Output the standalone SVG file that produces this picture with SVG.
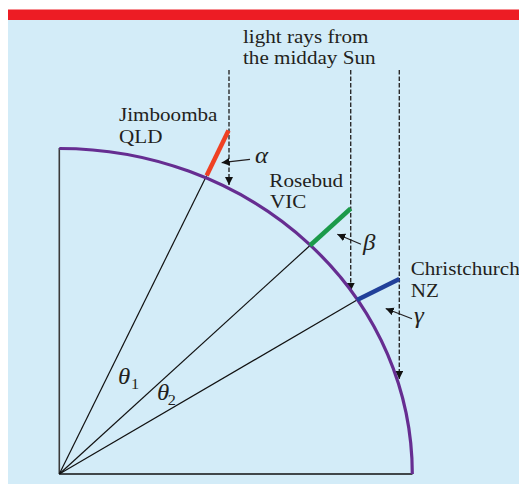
<svg xmlns="http://www.w3.org/2000/svg" width="519" height="484" viewBox="0 0 519 484">
<defs>
<style>
.t{font-family:"Liberation Serif","Times New Roman",serif;font-size:19.5px;fill:#231f20}
.g{font-family:"Liberation Serif","Times New Roman",serif;font-size:23px;font-style:italic;fill:#231f20}
.s{font-family:"Liberation Serif","Times New Roman",serif;font-size:15px;fill:#231f20}
.ray{stroke:#2b2b2b;stroke-width:1.4;stroke-dasharray:4.5 2;fill:none}
.ptr{stroke:#231f20;stroke-width:1.2;fill:none}
.rad{stroke:#111;stroke-width:1.2;fill:none}
</style>
<marker id="ah" markerUnits="userSpaceOnUse" markerWidth="10" markerHeight="10" refX="8" refY="4" orient="auto" viewBox="0 0 10 10">
<path d="M0,0 L8,4 L0,8 z" fill="#111"/>
</marker>
</defs>
<rect x="0" y="0" width="519" height="484" fill="#ffffff"/>
<rect x="8" y="20" width="511" height="464" fill="#d3ecf8"/>
<rect x="8" y="9.5" width="511" height="10.5" fill="#ed1c24"/>

<g id="axes">
<line x1="59.3" y1="474" x2="59.3" y2="148" stroke="#3a3a3a" stroke-width="1.6"/>
<line x1="59.3" y1="474" x2="412.5" y2="474" stroke="#111" stroke-width="1.6"/>
</g>

<g id="connectors">
<line class="rad" x1="59.3" y1="474" x2="206.7" y2="175.5"/>
<line class="rad" x1="59.3" y1="474" x2="310" y2="245.5"/>
<line class="rad" x1="59.3" y1="474" x2="357" y2="300"/>
<line class="ray" x1="229" y1="70" x2="229" y2="185" marker-end="url(#ah)"/>
<line class="ray" x1="350.7" y1="70" x2="350.7" y2="291" marker-end="url(#ah)"/>
<line class="ray" x1="399.3" y1="70" x2="399.3" y2="379" marker-end="url(#ah)"/>
<line class="ptr" x1="250" y1="159.3" x2="221.7" y2="162.7" marker-end="url(#ah)"/>
<line class="ptr" x1="361" y1="244.3" x2="337.3" y2="234.3" marker-end="url(#ah)"/>
<line class="ptr" x1="412" y1="318.8" x2="385.7" y2="308.5" marker-end="url(#ah)"/>
</g>

<g id="earth">
<path d="M59.3,148.5 A353,325.5 0 0 1 412.3,474" fill="none" stroke="#662d91" stroke-width="3.2"/>
</g>

<g id="jimboomba">
<line x1="206.7" y1="175.5" x2="228.5" y2="130.5" stroke="#ef4123" stroke-width="4.5"/>
<text class="t" transform="translate(119,120.5) scale(1.083,1)">Jimboomba</text>
<text class="t" transform="translate(119,142.7) scale(1.083,1)">QLD</text>
</g>

<g id="rosebud">
<line x1="310" y1="245.5" x2="350.7" y2="208.5" stroke="#1b9a4a" stroke-width="4.5"/>
<text class="t" transform="translate(269.3,186.7) scale(1.083,1)">Rosebud</text>
<text class="t" transform="translate(270,208.3) scale(1.083,1)">VIC</text>
</g>

<g id="christchurch">
<line x1="357" y1="300" x2="399.3" y2="279" stroke="#21409a" stroke-width="4.5"/>
<text class="t" transform="translate(410.7,275) scale(1.083,1)">Christchurch</text>
<text class="t" transform="translate(410.7,297.3) scale(1.083,1)">NZ</text>
</g>

<g id="sun-label">
<text class="t" transform="translate(243,43) scale(1.083,1)">light rays from</text>
<text class="t" transform="translate(243,64) scale(1.083,1)">the midday Sun</text>
</g>

<g id="angles">
<text class="g" transform="translate(255,162.5) scale(1.083,1)">α</text>
<text class="g" transform="translate(363,250) scale(1.083,1)">β</text>
<text class="g" transform="translate(414,323) scale(1.083,1)">γ</text>
<text class="g" transform="translate(118,384) scale(1.083,1)">θ</text>
<text class="s" transform="translate(131,388.5) scale(1.083,1)">1</text>
<text class="g" transform="translate(157,400) scale(1.083,1)">θ</text>
<text class="s" transform="translate(167.7,405) scale(1.083,1)">2</text>
</g>
</svg>
